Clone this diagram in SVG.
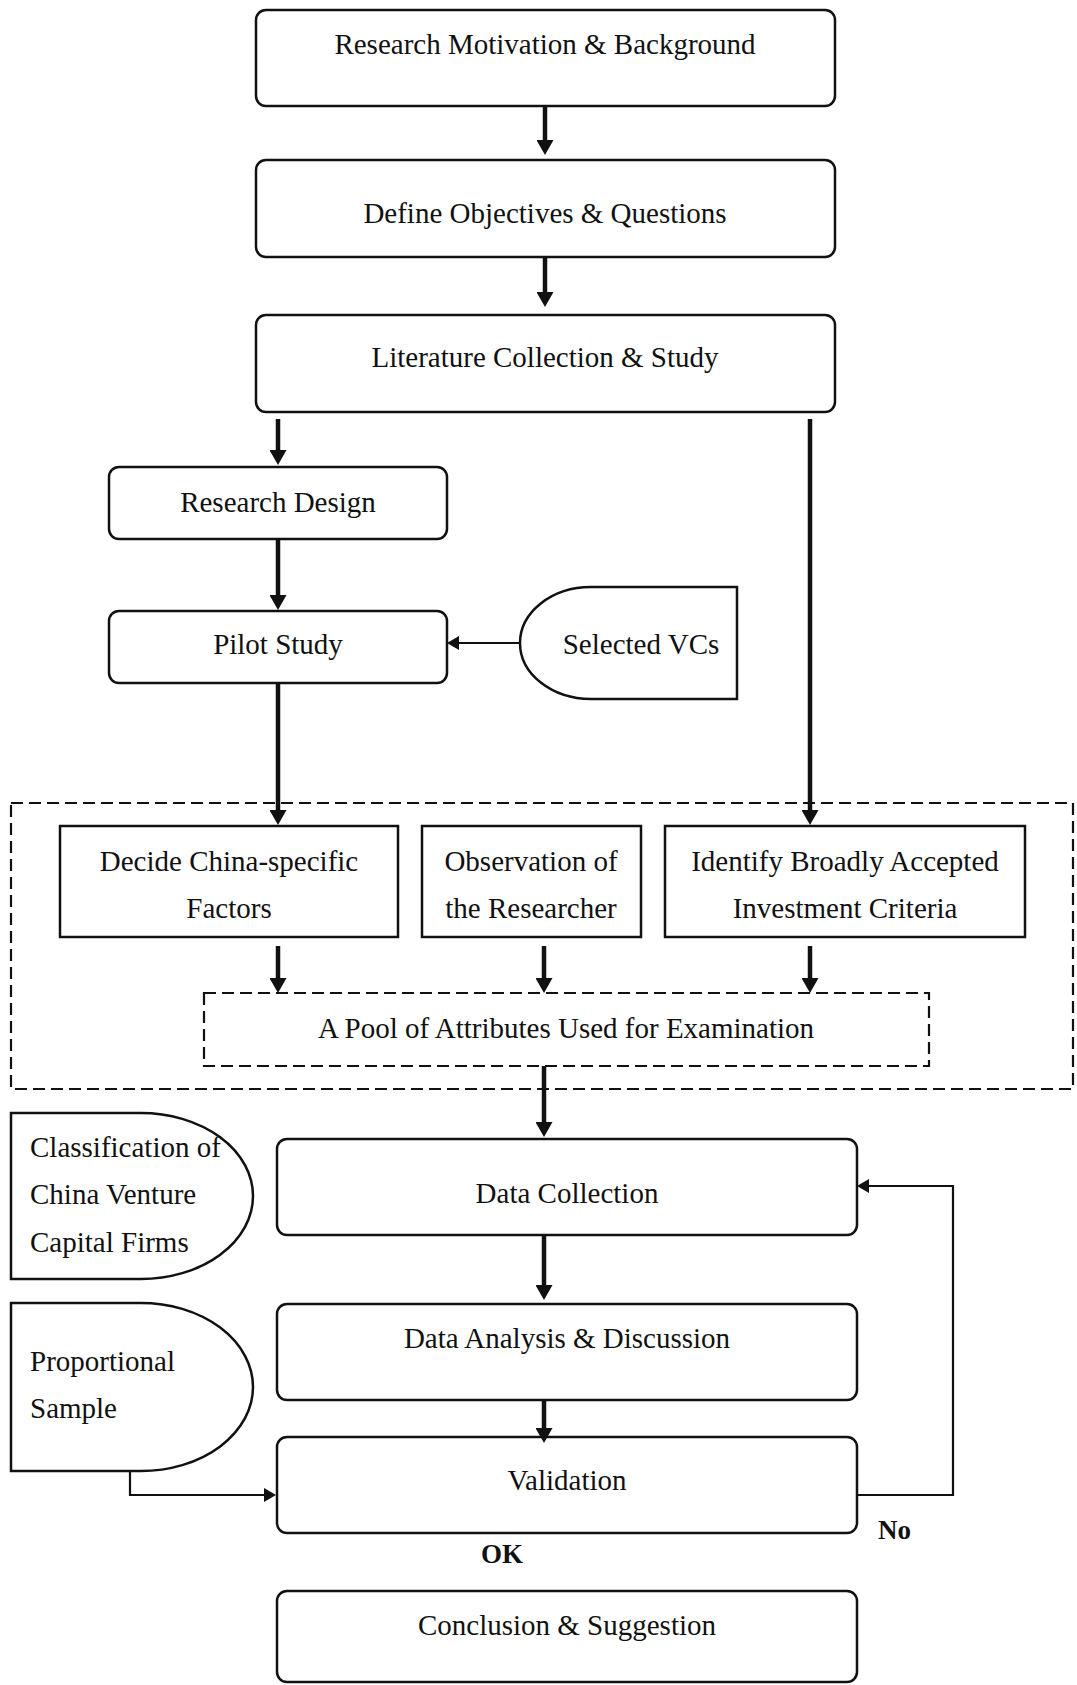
<svg xmlns="http://www.w3.org/2000/svg" width="1077" height="1685" viewBox="0 0 1077 1685">
<style>
  .box{fill:#fff;stroke:#111;stroke-width:2.5}
  .dash{fill:none;stroke:#111;stroke-width:2.2;stroke-dasharray:12 6}
  .t{font-family:"Liberation Serif","Times New Roman",serif;font-size:29px;fill:#111;text-anchor:middle}
  .tl{font-family:"Liberation Serif","Times New Roman",serif;font-size:29px;fill:#111;text-anchor:start}
  .b{font-family:"Liberation Serif","Times New Roman",serif;font-size:27px;font-weight:bold;fill:#111}
  .thick{stroke:#111;stroke-width:4.5;fill:none;marker-end:url(#hb)}
  .thin{stroke:#111;stroke-width:2.2;fill:none;marker-end:url(#hs)}
</style>
<defs>
  <marker id="hb" markerUnits="userSpaceOnUse" markerWidth="16" markerHeight="17" refX="0" refY="8.5" orient="auto" viewBox="0 0 15 17">
    <path d="M0,0 L15,8.5 L0,17 Z" fill="#111"/>
  </marker>
  <marker id="hs" markerUnits="userSpaceOnUse" markerWidth="12" markerHeight="14" refX="0" refY="7" orient="auto" viewBox="0 0 12 14">
    <path d="M0,0 L12,7 L0,14 Z" fill="#111"/>
  </marker>
</defs>
<rect width="1077" height="1685" fill="#fff"/>

<g id="motivation">
  <rect class="box" x="256" y="10" width="579" height="96" rx="10"/>
  <text class="t" x="545" y="54">Research Motivation &amp; Background</text>
</g>
<g id="objectives">
  <rect class="box" x="256" y="160" width="579" height="97" rx="10"/>
  <text class="t" x="545" y="223">Define Objectives &amp; Questions</text>
</g>
<g id="literature">
  <rect class="box" x="256" y="315" width="579" height="97" rx="10"/>
  <text class="t" x="545" y="367">Literature Collection &amp; Study</text>
</g>
<g id="research-design">
  <rect class="box" x="109" y="467" width="338" height="72" rx="10"/>
  <text class="t" x="278" y="512">Research Design</text>
</g>
<g id="pilot-study">
  <rect class="box" x="109" y="611" width="338" height="72" rx="10"/>
  <text class="t" x="278" y="654">Pilot Study</text>
</g>
<g id="selected-vcs">
  <path class="box" d="M591,587 L737,587 L737,699 L591,699 A71,56 0 0 1 591,587 Z"/>
  <text class="t" x="641" y="654">Selected VCs</text>
</g>
<g id="attribute-group">
  <rect class="dash" x="11" y="803" width="1062" height="286"/>
</g>
<g id="china-factors">
  <rect class="box" x="60" y="826" width="338" height="111"/>
  <text class="t" x="229" y="871">Decide China-specific</text>
  <text class="t" x="229" y="918">Factors</text>
</g>
<g id="observation">
  <rect class="box" x="422" y="826" width="219" height="111"/>
  <text class="t" x="531" y="871">Observation of</text>
  <text class="t" x="531" y="918">the Researcher</text>
</g>
<g id="criteria">
  <rect class="box" x="665" y="826" width="360" height="111"/>
  <text class="t" x="845" y="871">Identify Broadly Accepted</text>
  <text class="t" x="845" y="918">Investment Criteria</text>
</g>
<g id="pool">
  <rect class="dash" x="204" y="993" width="725" height="73" fill="#fff"/>
  <text class="t" x="566" y="1038">A Pool of Attributes Used for Examination</text>
</g>
<g id="classification">
  <path class="box" d="M11,1113 L141,1113 A112,83 0 0 1 141,1279 L11,1279 Z"/>
  <text class="tl" x="30" y="1157">Classification of</text>
  <text class="tl" x="30" y="1204">China Venture</text>
  <text class="tl" x="30" y="1252">Capital Firms</text>
</g>
<g id="data-collection">
  <rect class="box" x="277" y="1139" width="580" height="96" rx="10"/>
  <text class="t" x="567" y="1203">Data Collection</text>
</g>
<g id="proportional-sample">
  <path class="box" d="M11,1303 L141,1303 A112,84 0 0 1 141,1471 L11,1471 Z"/>
  <text class="tl" x="30" y="1371">Proportional</text>
  <text class="tl" x="30" y="1418">Sample</text>
</g>
<g id="data-analysis">
  <rect class="box" x="277" y="1304" width="580" height="96" rx="10"/>
  <text class="t" x="567" y="1348">Data Analysis &amp; Discussion</text>
</g>
<g id="validation">
  <rect class="box" x="277" y="1437" width="580" height="96" rx="10"/>
  <text class="t" x="567" y="1490">Validation</text>
</g>
<g id="labels">
  <text class="b" x="878" y="1539">No</text>
  <text class="b" x="481" y="1563">OK</text>
</g>
<g id="conclusion">
  <rect class="box" x="277" y="1591" width="580" height="91" rx="10"/>
  <text class="t" x="567" y="1635">Conclusion &amp; Suggestion</text>
</g>

<g id="connectors">
  <line class="thick" x1="545" y1="106" x2="545" y2="140"/>
  <line class="thick" x1="545" y1="257" x2="545" y2="292"/>
  <line class="thick" x1="278" y1="419" x2="278" y2="450"/>
  <line class="thick" x1="278" y1="539" x2="278" y2="595"/>
  <line class="thick" x1="278" y1="683" x2="278" y2="810"/>
  <line class="thick" x1="810" y1="419" x2="810" y2="810"/>
  <line class="thick" x1="278" y1="946" x2="278" y2="978"/>
  <line class="thick" x1="544" y1="946" x2="544" y2="978"/>
  <line class="thick" x1="810" y1="946" x2="810" y2="978"/>
  <line class="thick" x1="544" y1="1066" x2="544" y2="1122"/>
  <line class="thick" x1="544" y1="1235" x2="544" y2="1285"/>
  <line class="thick" x1="544" y1="1400" x2="544" y2="1428"/>
  <line class="thin" x1="520" y1="643" x2="459" y2="643"/>
  <polyline class="thin" points="130,1471 130,1495 264,1495"/>
  <polyline class="thin" points="857,1495 953,1495 953,1186 869,1186"/>
</g>
</svg>
